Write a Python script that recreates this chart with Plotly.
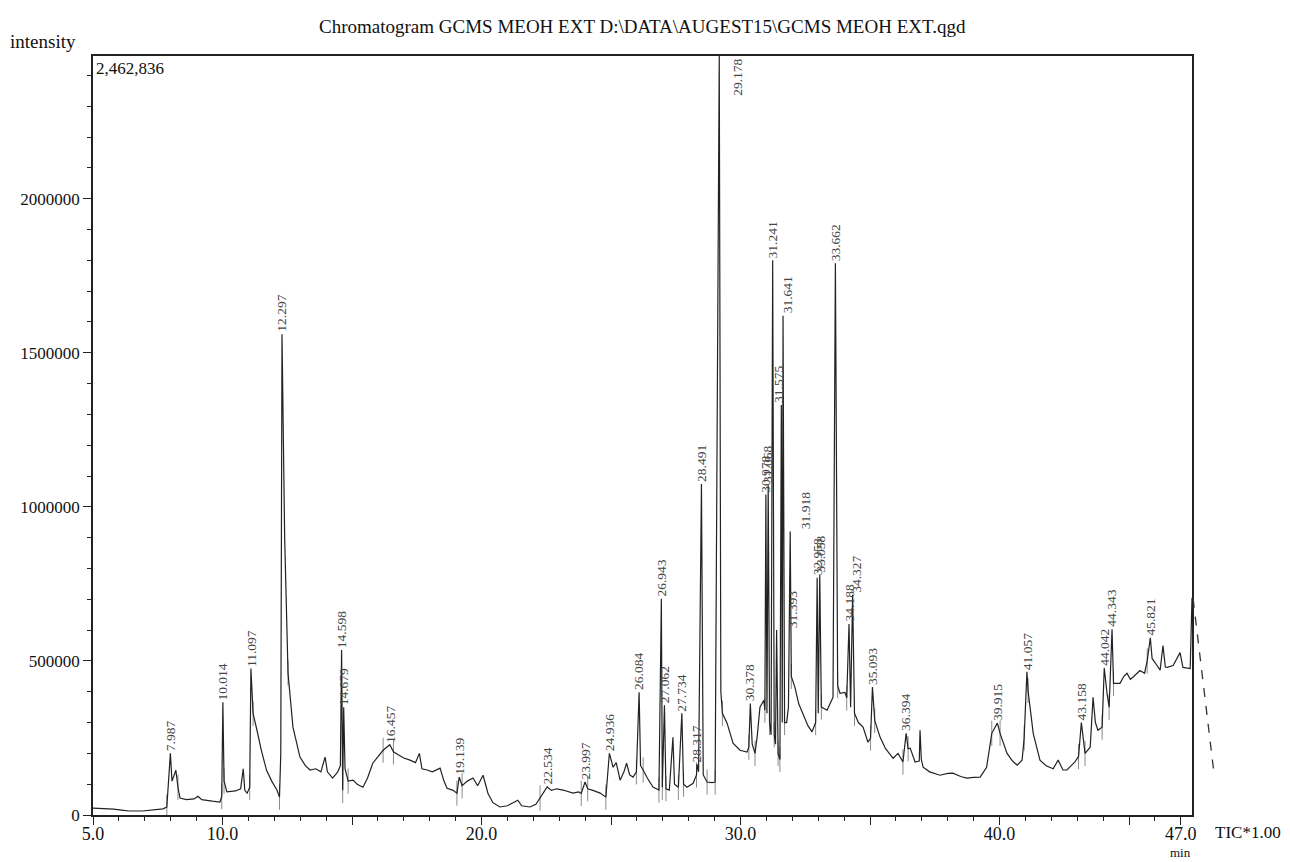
import plotly.graph_objects as go

# ---------------- data ----------------
trace_time = [
    5.00, 5.40, 5.80, 6.10, 6.40, 6.90, 7.30, 7.70, 7.85, 7.93, 7.987, 8.05, 8.15, 8.20, 8.28, 8.36,
    8.60, 8.90, 9.05, 9.20, 9.60, 9.90, 9.97, 10.014, 10.06, 10.17, 10.50, 10.70, 10.80, 10.86, 10.95,
    11.05, 11.097, 11.18, 11.33, 11.50, 11.70, 11.90, 12.10, 12.20, 12.25, 12.297, 12.40, 12.53, 12.72,
    12.99, 13.20, 13.38, 13.60, 13.80, 13.96, 14.05, 14.25, 14.45, 14.55, 14.598, 14.64, 14.679, 14.73,
    14.85, 15.04, 15.20, 15.42, 15.60, 15.80, 16.00, 16.20, 16.457, 16.60, 16.80, 17.00, 17.24, 17.45,
    17.60, 17.70, 17.90, 18.10, 18.40, 18.55, 18.67, 18.90, 19.05, 19.139, 19.25, 19.45, 19.67, 19.85,
    20.06, 20.25, 20.44, 20.71, 21.00, 21.40, 21.55, 21.87, 22.10, 22.26, 22.40, 22.534, 22.70, 22.90,
    23.15, 23.35, 23.53, 23.75, 23.85, 23.997, 24.10, 24.30, 24.58, 24.80, 24.85, 24.936, 25.08, 25.20,
    25.35, 25.50, 25.60, 25.72, 25.85, 25.98, 26.084, 26.14, 26.24, 26.40, 26.62, 26.85, 26.943, 26.98,
    27.062, 27.12, 27.25, 27.39, 27.45, 27.60, 27.734, 27.80, 27.93, 28.17, 28.30, 28.317, 28.38,
    28.491, 28.56, 28.71, 28.90, 29.02, 29.178, 29.24, 29.30, 29.48, 29.71, 29.98, 30.25, 30.32,
    30.378, 30.45, 30.56, 30.65, 30.75, 30.90, 30.94, 30.978, 31.02, 31.068, 31.12, 31.18, 31.241,
    31.30, 31.35, 31.393, 31.45, 31.52, 31.575, 31.61, 31.641, 31.70, 31.78, 31.85, 31.918, 31.96,
    32.10, 32.25, 32.40, 32.60, 32.76, 32.90, 32.958, 33.00, 33.058, 33.12, 33.34, 33.57, 33.662,
    33.75, 33.84, 34.03, 34.10, 34.188, 34.25, 34.327, 34.40, 34.55, 34.73, 34.92, 35.02, 35.093,
    35.18, 35.39, 35.60, 35.89, 36.08, 36.27, 36.394, 36.47, 36.55, 36.74, 36.90, 36.93, 36.98, 37.05,
    37.30, 37.70, 38.00, 38.20, 38.50, 38.74, 39.00, 39.25, 39.50, 39.70, 39.915, 40.02, 40.29, 40.50,
    40.68, 40.87, 40.95, 41.057, 41.10, 41.30, 41.56, 41.80, 42.07, 42.26, 42.45, 42.60, 42.91, 43.05,
    43.158, 43.30, 43.50, 43.61, 43.70, 43.80, 43.96, 44.042, 44.15, 44.23, 44.343, 44.40, 44.65,
    44.80, 44.92, 45.05, 45.15, 45.42, 45.60, 45.70, 45.821, 45.89, 46.08, 46.20, 46.31, 46.40, 46.47,
    46.70, 46.97, 47.08, 47.36, 47.43,
]
trace_intensity = [
    22000, 21000, 19000, 16000, 13000, 13000, 17000, 20000, 26000, 120000, 200000, 110000, 130000, 145000, 90000, 55000,
    50000, 52000, 61000, 50000, 45000, 42000, 60000, 366000, 110000, 75000, 78000, 85000, 150000, 80000, 71000,
    90000, 475000, 330000, 275000, 210000, 145000, 110000, 81000, 58000, 200000, 1560000, 900000, 460000, 285000,
    188000, 160000, 146000, 150000, 140000, 188000, 140000, 120000, 140000, 160000, 535000, 80000, 350000, 150000,
    110000, 113000, 100000, 90000, 120000, 168000, 190000, 210000, 228000, 205000, 195000, 185000, 178000, 170000,
    200000, 150000, 146000, 140000, 152000, 110000, 87000, 80000, 71000, 123000, 95000, 110000, 120000, 95000,
    129000, 70000, 40000, 26000, 30000, 48000, 30000, 26000, 35000, 55000, 70000, 91000, 80000, 85000,
    81000, 75000, 71000, 75000, 70000, 107000, 85000, 80000, 71000, 58000, 120000, 200000, 155000, 170000,
    113000, 140000, 168000, 130000, 123000, 140000, 398000, 160000, 146000, 120000, 91000, 81000, 702000, 90000,
    356000, 85000, 81000, 252000, 100000, 90000, 330000, 100000, 90000, 103000, 130000, 165000, 140000,
    1074000, 130000, 107000, 105000, 107000, 2462836, 400000, 330000, 298000, 233000, 210000, 204000, 220000,
    362000, 230000, 200000, 260000, 350000, 372000, 340000, 1040000, 330000, 1070000, 300000, 260000, 1800000,
    260000, 230000, 600000, 200000, 180000, 1330000, 300000, 1620000, 300000, 300000, 350000, 920000, 450000,
    414000, 360000, 330000, 290000, 270000, 300000, 770000, 330000, 780000, 350000, 340000, 382000, 1790000,
    420000, 395000, 398000, 380000, 620000, 350000, 715000, 330000, 300000, 285000, 236000, 250000, 415000,
    307000, 252000, 215000, 184000, 200000, 172000, 265000, 215000, 217000, 172000, 175000, 275000, 180000, 155000,
    140000, 129000, 135000, 136000, 125000, 120000, 122000, 123000, 155000, 265000, 298000, 265000, 200000, 175000,
    162000, 178000, 250000, 465000, 404000, 265000, 178000, 160000, 150000, 178000, 146000, 146000, 172000, 190000,
    300000, 200000, 220000, 382000, 300000, 275000, 285000, 477000, 395000, 350000, 603000, 427000, 427000,
    450000, 460000, 440000, 447000, 469000, 460000, 500000, 575000, 508000, 485000, 470000, 550000, 480000, 479000,
    485000, 527000, 479000, 475000, 705000,
]
peak_rt = [7.987, 10.014, 11.097, 12.297, 14.598, 14.679, 16.457, 19.139, 22.534, 23.997, 24.936,
           26.084, 26.943, 27.062, 27.734, 28.317, 28.491, 29.178, 30.378, 30.978, 31.068, 31.241,
           31.393, 31.575, 31.641, 31.918, 32.958, 33.058, 33.662, 34.188, 34.327, 35.093, 36.394,
           39.915, 41.057, 43.158, 44.042, 44.343, 45.821]
# integration start / end marks (small arrows at the peak bases)
boundary_time = [7.85, 8.28, 9.97, 10.06, 11.05, 11.18, 12.20, 12.53, 14.64, 14.85, 16.20, 16.60,
                 19.05, 19.25, 22.26, 23.85, 24.10, 24.80, 25.98, 26.24, 26.85, 26.98, 27.12,
                 27.60, 27.80, 28.30, 28.71, 29.02, 29.30, 30.32, 30.56, 30.94, 31.12, 31.30,
                 31.45, 31.52, 31.70, 31.96, 32.90, 33.12, 33.75, 34.10, 34.40, 35.02, 35.18,
                 36.27, 36.47, 39.70, 40.02, 40.95, 41.10, 43.05, 43.30, 43.96, 44.23, 44.40, 45.70]
x_tick_vals = [5, 10, 15, 20, 25, 30, 35, 40, 45, 47]
x_tick_text = ["5.0", "10.0", "", "20.0", "", "30.0", "", "40.0", "", "47.0"]
y_tick_vals = [0, 500000, 1000000, 1500000, 2000000]
y_tick_text = ["0", "500000", "1000000", "1500000", "2000000"]
y_max = 2462836
x_range = [5.0, 47.43]

# ---------------- style ----------------
SERIF = "Liberation Serif, Times New Roman, serif"
label_xshift = {31.393: 16, 31.575: -3, 31.641: 4, 31.918: 16, 34.327: 4, 29.178: 18}
LABEL_FONT = dict(family=SERIF, size=13.5, color="#444")

boundary_y = [trace_intensity[trace_time.index(t)] for t in boundary_time]

fig = go.Figure()
fig.add_trace(go.Scatter(x=boundary_time, y=boundary_y, mode="markers",
                         marker=dict(symbol="line-ns-open", size=18, color="#8a8a8a",
                                     line=dict(color="#8a8a8a", width=1)),
                         hoverinfo="skip", showlegend=False))
fig.add_trace(go.Scatter(x=trace_time, y=trace_intensity, mode="lines",
                         line=dict(color="#222", width=1.2), hoverinfo="skip",
                         showlegend=False))

annotations = []
for rt in peak_rt:
    h = trace_intensity[trace_time.index(rt)]
    if h >= y_max:
        annotations.append(dict(x=rt, y=y_max, xref="x", yref="y", text=f"{rt:.3f}",
                                showarrow=False, textangle=-90, xanchor="center", yanchor="top",
                                xshift=label_xshift.get(rt, 0), yshift=-1, font=LABEL_FONT))
    else:
        annotations.append(dict(x=rt, y=h, xref="x", yref="y", text=f"{rt:.3f}",
                                showarrow=False, textangle=-90, xanchor="center", yanchor="bottom",
                                xshift=label_xshift.get(rt, 0), yshift=0, font=LABEL_FONT))

annotations += [
    dict(x=0.5, y=1.0, xref="paper", yref="paper", yshift=42, text=r"Chromatogram GCMS MEOH EXT D:\DATA\AUGEST15\GCMS MEOH EXT.qgd",
         showarrow=False, xanchor="center", yanchor="top", font=dict(family=SERIF, size=19, color="#111")),
    dict(x=0, y=1.0, xref="paper", yref="paper", xshift=-15, yshift=2, text="intensity",
         showarrow=False, xanchor="right", yanchor="bottom", font=dict(family=SERIF, size=19, color="#111")),
    dict(x=0, y=1.0, xref="paper", yref="paper", xshift=1, yshift=-1, text="2,462,836",
         showarrow=False, xanchor="left", yanchor="top", font=dict(family=SERIF, size=17, color="#111")),
    dict(x=1.0, y=0, xref="paper", yref="paper", xshift=21, yshift=-17, text="TIC*1.00",
         showarrow=False, xanchor="left", yanchor="middle", font=dict(family=SERIF, size=17, color="#111")),
    dict(x=47.0, y=0, xref="x", yref="paper", yshift=-28, text="min",
         showarrow=False, xanchor="center", yanchor="top", font=dict(family=SERIF, size=13, color="#111")),
]

fig.update_layout(
    width=1290, height=862, autosize=False,
    margin=dict(l=93, r=98, t=56, b=47, autoexpand=False),
    paper_bgcolor="white", plot_bgcolor="white",
    annotations=annotations,
    shapes=[dict(type="line", xref="paper", yref="paper", x0=1.001, y0=0.285, x1=1.02, y1=0.055,
                 line=dict(color="#333", width=1.3, dash="dash"))],
)
fig.update_xaxes(range=x_range, tickmode="array", tickvals=x_tick_vals, ticktext=x_tick_text,
                 ticks="outside", ticklen=8, tickwidth=1.3, tickcolor="#222",
                 ticklabelstandoff=-6,
                 minor=dict(tickmode="linear", tick0=5, dtick=1, ticks="outside", ticklen=4,
                            tickwidth=1, tickcolor="#222"),
                 showline=True, linecolor="#222", linewidth=1.6, mirror=True,
                 showgrid=False, zeroline=False, automargin=False,
                 tickfont=dict(family=SERIF, size=18, color="#111"))
fig.update_yaxes(range=[0, y_max], tickmode="array", tickvals=y_tick_vals, ticktext=y_tick_text,
                 ticks="outside", ticklen=8, tickwidth=1.3, tickcolor="#222",
                 minor=dict(tickmode="linear", tick0=0, dtick=100000, ticks="outside", ticklen=4,
                            tickwidth=1, tickcolor="#222"),
                 showline=True, linecolor="#222", linewidth=1.6, mirror=True,
                 showgrid=False, zeroline=False, automargin=False,
                 tickfont=dict(family=SERIF, size=17, color="#111"))

fig.write_html("out.html", config={"displayModeBar": False},
               post_script="document.body.style.margin='0px';document.body.style.overflow='hidden';")
